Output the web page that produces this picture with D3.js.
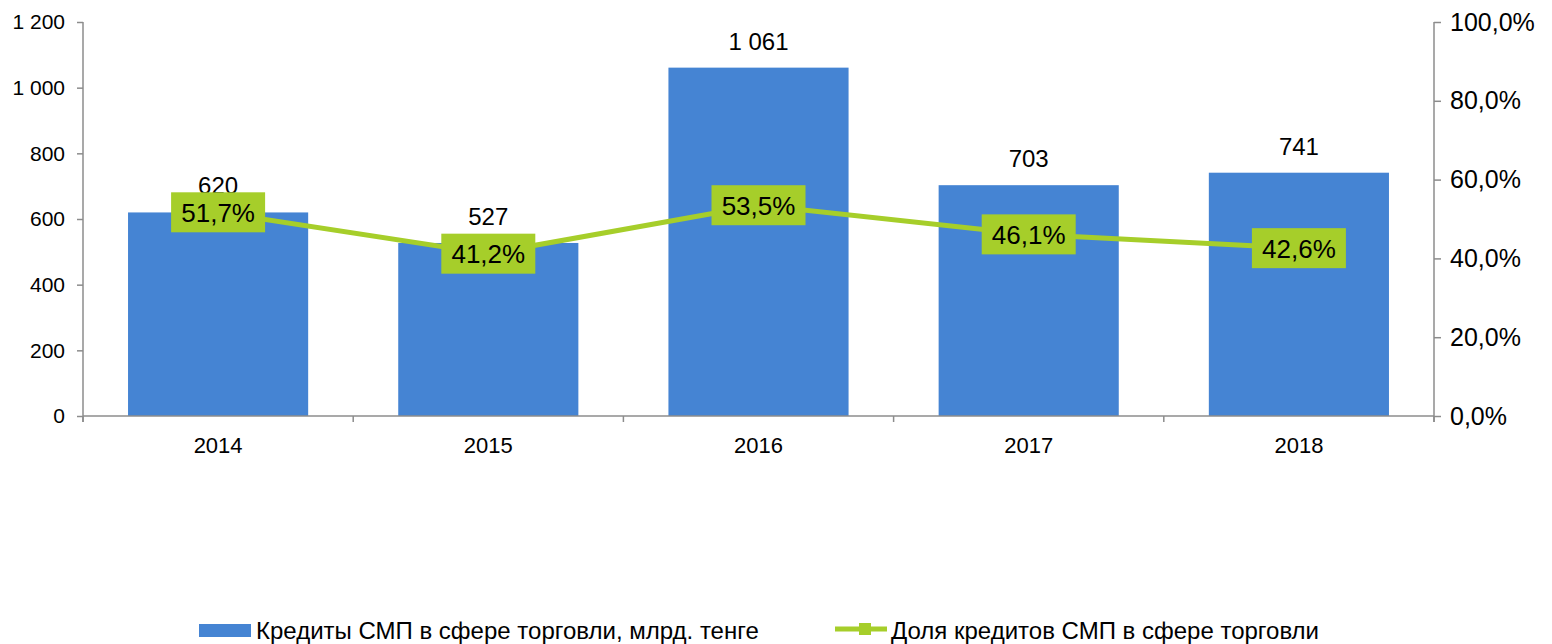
<!DOCTYPE html>
<html>
<head>
<meta charset="utf-8">
<script src="https://cdn.jsdelivr.net/npm/d3@7"></script>
<style>
  body { margin: 0; background: #fff; }
  svg text { font-family: "Liberation Sans", Arial, sans-serif; fill: #000; }
</style>
</head>
<body>
<svg id="chart" width="1552" height="644"></svg>
<script>
// chart data
const years = ['2014', '2015', '2016', '2017', '2018'];
const credits = [620, 527, 1061, 703, 741];          // млрд. тенге
const shares = [51.7, 41.2, 53.5, 46.1, 42.6];      // %
const leftTicks = [0, 200, 400, 600, 800, 1000, 1200];
const rightTicks = [0, 20, 40, 60, 80, 100];
const seriesNames = ['Кредиты СМП в сфере торговли, млрд. тенге', 'Доля кредитов СМП в сфере торговли'];

const blue = '#4584d3';
const green = '#a6ce2a';
const axisColor = '#8c8c8c';

const svg = d3.select('#chart');
const plotL = 83, plotR = 1434, plotT = 22, plotB = 416;

const x = d3.scaleBand().domain(years).range([plotL, plotR]).padding(0);
const y = d3.scaleLinear().domain([0, 1200]).range([plotB, plotT]);
const y2 = d3.scaleLinear().domain([0, 100]).range([plotB, plotT]);

const fmtNum = d => d3.format(',')(d).replace(/,/g, ' ');
const fmtPct = d => d3.format('.1f')(d).replace('.', ',') + '%';

// bars
const barW = x.bandwidth() * 2 / 3;
svg.append('g').selectAll('rect')
  .data(credits)
  .enter().append('rect')
  .attr('x', (d, i) => x(years[i]) + (x.bandwidth() - barW) / 2)
  .attr('y', d => y(d))
  .attr('width', barW)
  .attr('height', d => plotB - y(d))
  .attr('fill', blue);

// axes
const leftAxis = svg.append('g')
  .attr('transform', `translate(${plotL},0)`)
  .call(d3.axisLeft(y).tickValues(leftTicks).tickSize(6).tickPadding(12).tickFormat(fmtNum));
leftAxis.selectAll('text').style('font-size', '21px');

const rightAxis = svg.append('g')
  .attr('transform', `translate(${plotR},0)`)
  .call(d3.axisRight(y2).tickValues(rightTicks).tickSize(7).tickPadding(9).tickFormat(fmtPct));
rightAxis.selectAll('text').style('font-size', '25px');

const bottomAxis = svg.append('g')
  .attr('transform', `translate(0,${plotB})`)
  .call(d3.axisBottom(x).tickSize(0).tickPadding(21));
bottomAxis.selectAll('text').style('font-size', '22px');
bottomAxis.selectAll('.boundary')
  .data(d3.range(years.length + 1))
  .enter().append('line')
  .attr('x1', i => plotL + i * x.step())
  .attr('x2', i => plotL + i * x.step())
  .attr('y1', 0).attr('y2', 6);

[leftAxis, rightAxis, bottomAxis].forEach(a => {
  a.selectAll('path.domain').attr('stroke', axisColor).attr('stroke-width', 1.5);
  a.selectAll('line').attr('stroke', axisColor).attr('stroke-width', 1.5);
});
leftAxis.select('path.domain').attr('d', `M0,${plotT}V${plotB + 6}`);
rightAxis.select('path.domain').attr('d', `M0,${plotT}V${plotB + 6}`);
bottomAxis.select('path.domain').attr('d', `M${plotL},0H${plotR}`);

// bar value labels
svg.append('g').selectAll('text')
  .data(credits)
  .enter().append('text')
  .attr('x', (d, i) => x(years[i]) + x.bandwidth() / 2)
  .attr('y', d => y(d) - 18)
  .attr('text-anchor', 'middle')
  .style('font-size', '24px')
  .text(fmtNum);

// share line
const cx = (d, i) => x(years[i]) + x.bandwidth() / 2;
svg.append('path')
  .datum(shares)
  .attr('fill', 'none')
  .attr('stroke', green)
  .attr('stroke-width', 5)
  .attr('d', d3.line().x(cx).y(d => y2(d)));

// share labels in green boxes
const lab = svg.append('g').selectAll('g')
  .data(shares)
  .enter().append('g')
  .attr('transform', (d, i) => `translate(${cx(d, i)},${y2(d)})`);
lab.append('rect')
  .attr('x', -47).attr('y', -20)
  .attr('width', 94).attr('height', 40)
  .attr('fill', green);
lab.append('text')
  .attr('text-anchor', 'middle')
  .attr('dy', '0.36em')
  .style('font-size', '26px')
  .text(fmtPct);

// legend
const leg = svg.append('g');
leg.append('rect')
  .attr('x', 199).attr('y', 624).attr('width', 52).attr('height', 13)
  .attr('fill', blue);
leg.append('text')
  .attr('x', 256).attr('y', 639)
  .style('font-size', '24px')
  .text(seriesNames[0]);
leg.append('line')
  .attr('x1', 835).attr('x2', 887).attr('y1', 629).attr('y2', 629)
  .attr('stroke', green).attr('stroke-width', 5);
leg.append('rect')
  .attr('x', 859).attr('y', 623).attr('width', 12).attr('height', 12)
  .attr('fill', green);
leg.append('text')
  .attr('x', 891).attr('y', 639)
  .style('font-size', '24px')
  .text(seriesNames[1]);
</script>
</body>
</html>
